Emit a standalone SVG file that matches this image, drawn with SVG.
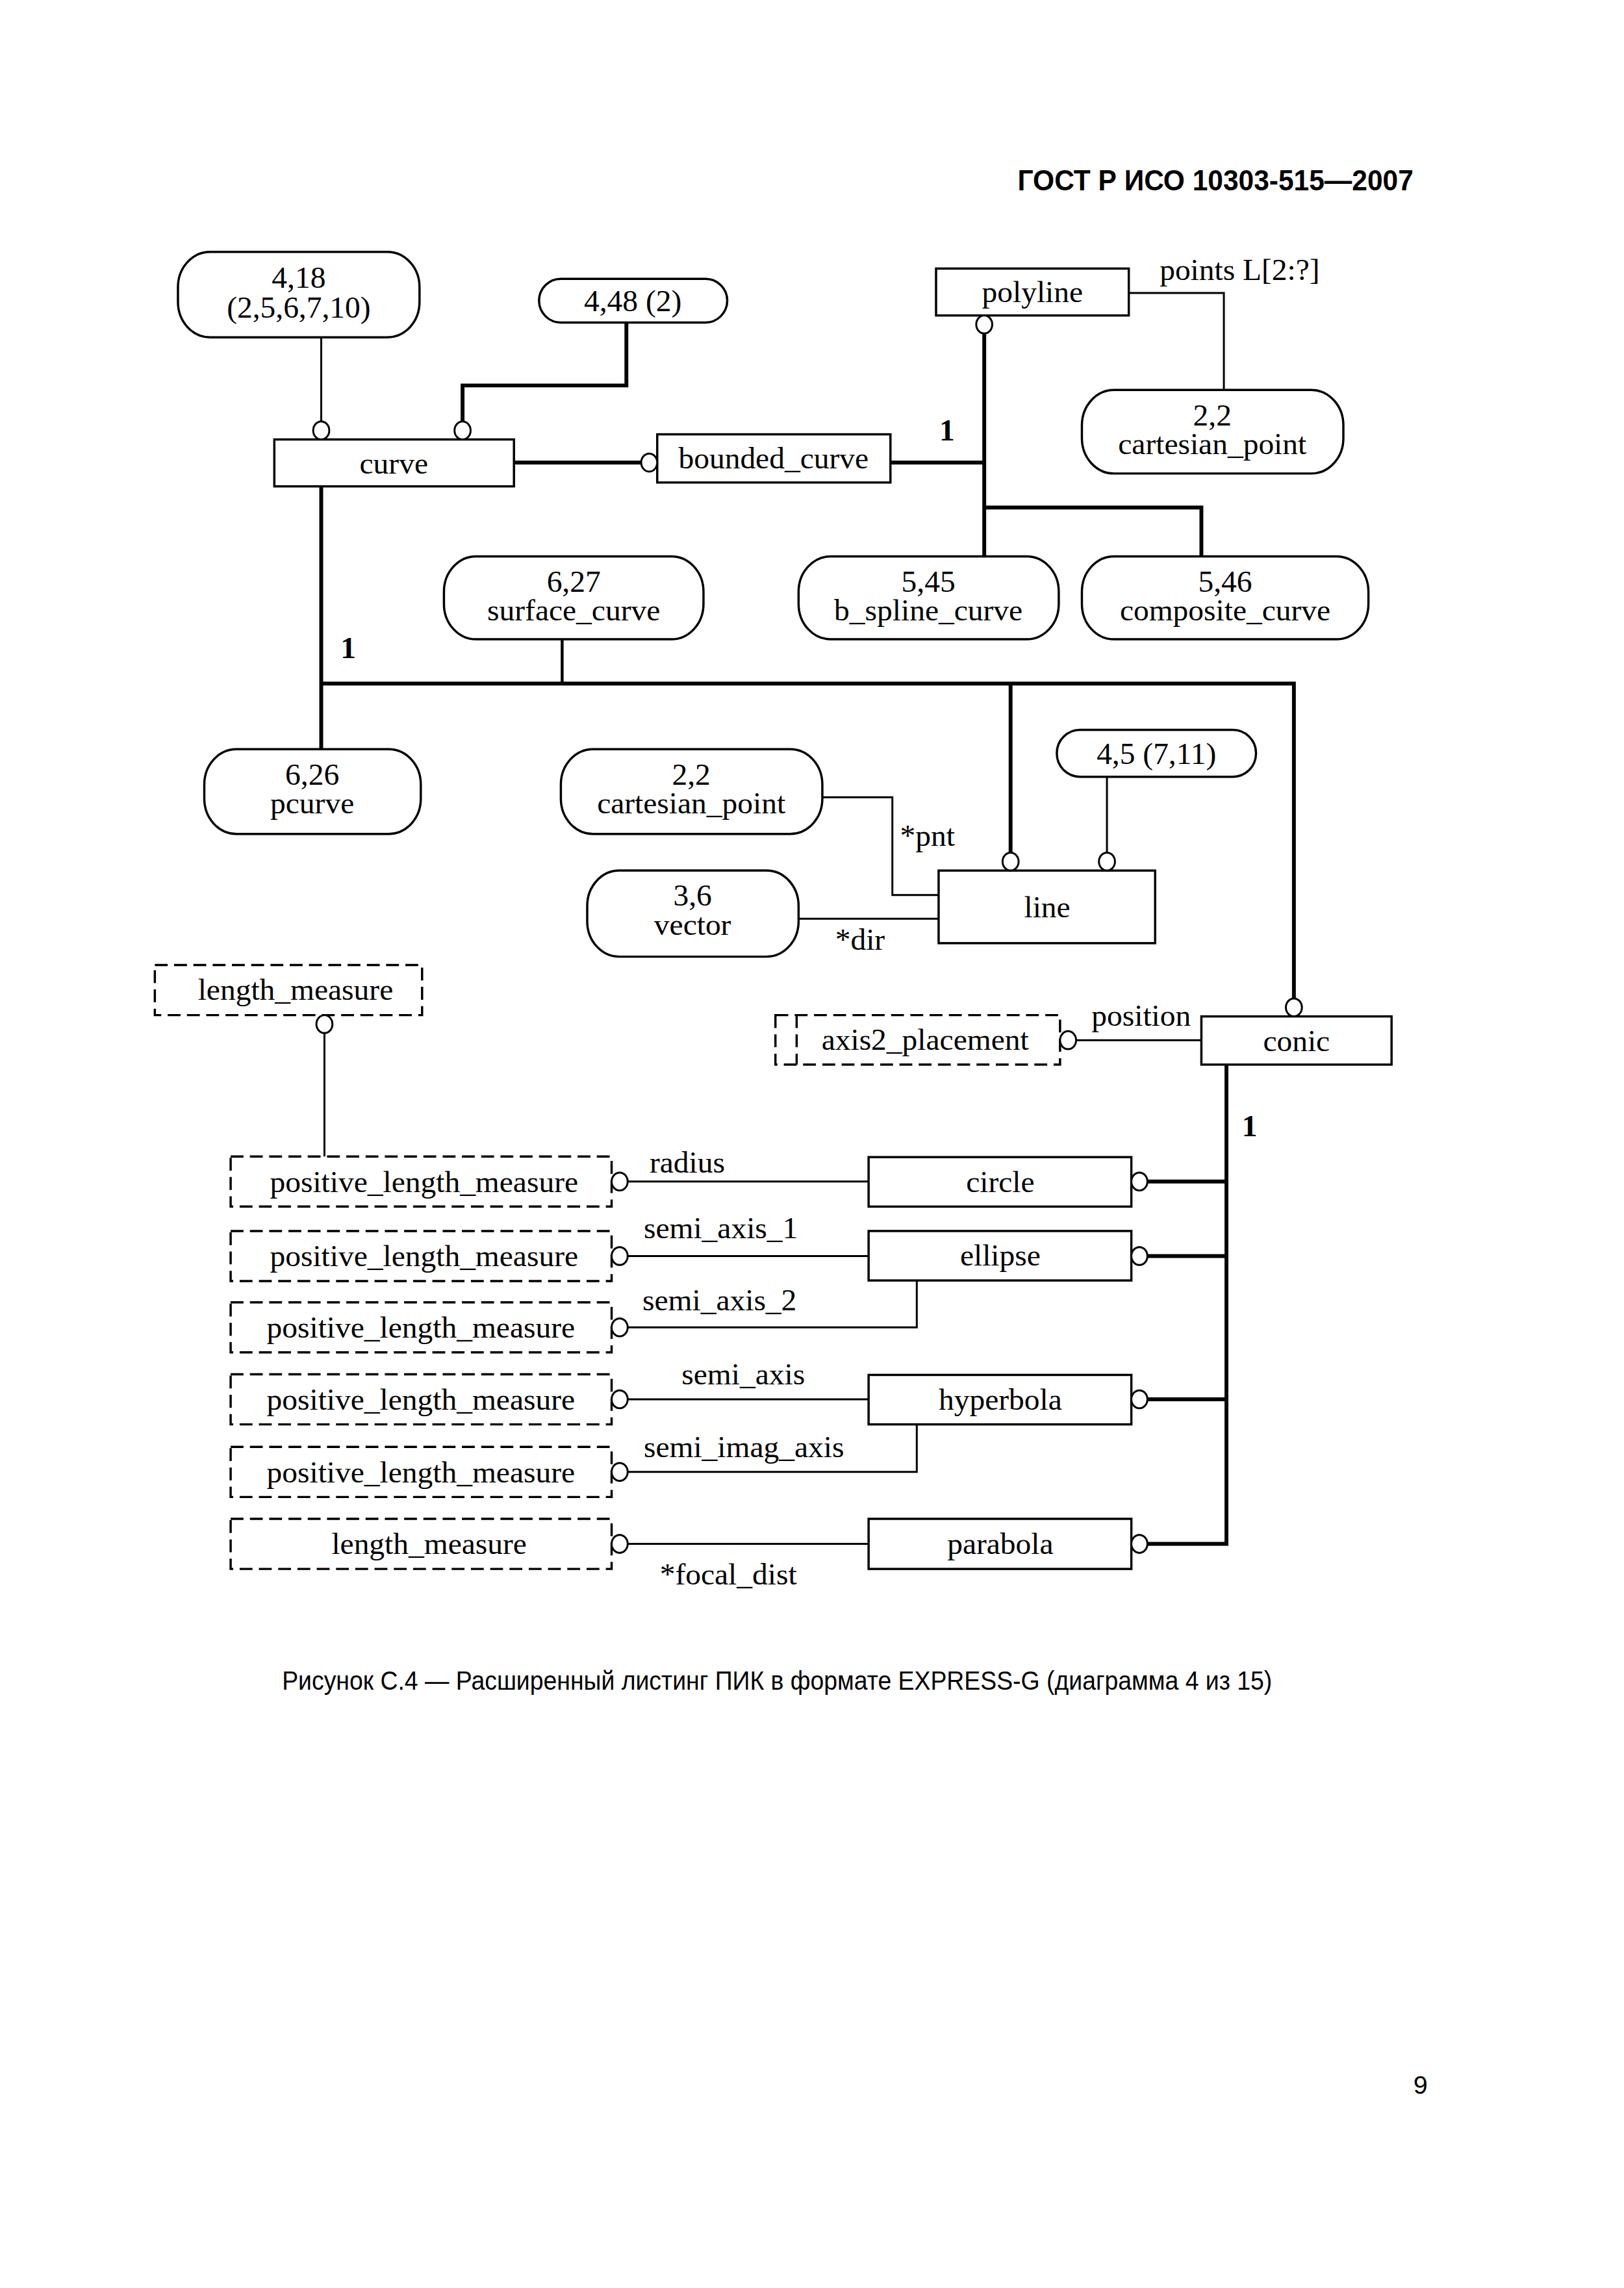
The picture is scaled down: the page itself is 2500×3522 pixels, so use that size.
<svg xmlns="http://www.w3.org/2000/svg" width="2500" height="3522" viewBox="0 0 2500 3522">
<style>
.box{fill:#fff;stroke:#000;stroke-width:3.5}
.rbox{fill:#fff;stroke:#000;stroke-width:3.5}
.dbox{fill:none;stroke:#000;stroke-width:3.5;stroke-dasharray:20 10}
.t{font-family:'Liberation Serif','Times New Roman',serif;font-size:48px;text-anchor:middle;fill:#000}
.l{font-family:'Liberation Serif','Times New Roman',serif;font-size:48px;fill:#000}
.b{font-weight:bold}
.thin{fill:none;stroke:#000;stroke-width:3}
.med{fill:none;stroke:#000;stroke-width:4.5}
.thick{fill:none;stroke:#000;stroke-width:6}
.ring{fill:#fff;stroke:#000;stroke-width:3}
.hdr{font-family:'Liberation Sans',Arial,sans-serif;fill:#000}
</style>
<rect width="2500" height="3522" fill="#fff"/>
<g transform="scale(0.989)">
<text class="hdr" x="2200" y="296" text-anchor="end" font-weight="bold" font-size="44" textLength="616" lengthAdjust="spacingAndGlyphs">ГОСТ Р ИСО 10303-515—2007</text>

<g id="n418"><rect class="rbox" x="277" y="392" width="376" height="133" rx="50" ry="55"/><text class="t"><tspan x="465" y="448">4,18</tspan><tspan x="465" y="494">(2,5,6,7,10)</tspan></text></g>
<g id="n448"><rect class="rbox" x="839" y="434" width="293" height="68" rx="34"/><text class="t" x="985" y="484">4,48 (2)</text></g>
<g id="polyline"><rect class="box" x="1457" y="418" width="300" height="73"/><text class="t" x="1607" y="470">polyline</text></g>
<g id="cp_top"><rect class="rbox" x="1684" y="607" width="407" height="130" rx="50" ry="55"/><text class="t"><tspan x="1887" y="662">2,2</tspan><tspan x="1887" y="707">cartesian_point</tspan></text></g>
<g id="curve"><rect class="box" x="427" y="684" width="373" height="73"/><text class="t" x="613" y="737">curve</text></g>
<g id="bounded_curve"><rect class="box" x="1023" y="676" width="363" height="75"/><text class="t" x="1204" y="729">bounded_curve</text></g>
<g id="surface_curve"><rect class="rbox" x="691" y="866" width="404" height="129" rx="50" ry="55"/><text class="t"><tspan x="893" y="921">6,27</tspan><tspan x="893" y="966">surface_curve</tspan></text></g>
<g id="b_spline_curve"><rect class="rbox" x="1243" y="866" width="405" height="129" rx="50" ry="55"/><text class="t"><tspan x="1445" y="921">5,45</tspan><tspan x="1445" y="966">b_spline_curve</tspan></text></g>
<g id="composite_curve"><rect class="rbox" x="1684" y="866" width="446" height="129" rx="50" ry="55"/><text class="t"><tspan x="1907" y="921">5,46</tspan><tspan x="1907" y="966">composite_curve</tspan></text></g>
<g id="pcurve"><rect class="rbox" x="318" y="1166" width="337" height="132" rx="50" ry="55"/><text class="t"><tspan x="486" y="1221">6,26</tspan><tspan x="486" y="1266">pcurve</tspan></text></g>
<g id="cp_mid"><rect class="rbox" x="873" y="1166" width="407" height="132" rx="50" ry="55"/><text class="t"><tspan x="1076" y="1221">2,2</tspan><tspan x="1076" y="1266">cartesian_point</tspan></text></g>
<g id="n45"><rect class="rbox" x="1645" y="1136" width="310" height="73" rx="36"/><text class="t" x="1800" y="1189">4,5 (7,11)</text></g>
<g id="line"><rect class="box" x="1461" y="1355" width="337" height="113"/><text class="t" x="1630" y="1428">line</text></g>
<g id="vector"><rect class="rbox" x="914" y="1355" width="329" height="134" rx="50" ry="55"/><text class="t"><tspan x="1078" y="1410">3,6</tspan><tspan x="1078" y="1455">vector</tspan></text></g>
<g id="lm_top"><rect class="dbox" x="241" y="1502" width="416" height="78"/><text class="t" x="460" y="1556">length_measure</text></g>
<g id="axis2_placement"><rect class="dbox" x="1207" y="1580" width="443" height="77"/><line class="dbox" x1="1240" y1="1580" x2="1240" y2="1657"/><text class="t" x="1440" y="1634">axis2_placement</text></g>
<g id="conic"><rect class="box" x="1870" y="1582" width="296" height="75"/><text class="t" x="2018" y="1636">conic</text></g>
<g id="plm1"><rect class="dbox" x="359" y="1800" width="593" height="78"/><text class="t" x="660" y="1855">positive_length_measure</text></g>
<g id="plm2"><rect class="dbox" x="359" y="1916" width="593" height="78"/><text class="t" x="660" y="1971">positive_length_measure</text></g>
<g id="plm3"><rect class="dbox" x="359" y="2027" width="593" height="78"/><text class="t" x="655" y="2082">positive_length_measure</text></g>
<g id="plm4"><rect class="dbox" x="359" y="2139" width="593" height="78"/><text class="t" x="655" y="2194">positive_length_measure</text></g>
<g id="plm5"><rect class="dbox" x="359" y="2252" width="593" height="78"/><text class="t" x="655" y="2307">positive_length_measure</text></g>
<g id="lm_bottom"><rect class="dbox" x="359" y="2364" width="593" height="78"/><text class="t" x="668" y="2419">length_measure</text></g>
<g id="circle"><rect class="box" x="1352" y="1801" width="409" height="77"/><text class="t" x="1557" y="1855">circle</text></g>
<g id="ellipse"><rect class="box" x="1352" y="1916" width="409" height="77"/><text class="t" x="1557" y="1970">ellipse</text></g>
<g id="hyperbola"><rect class="box" x="1352" y="2140" width="409" height="77"/><text class="t" x="1557" y="2194">hyperbola</text></g>
<g id="parabola"><rect class="box" x="1352" y="2364" width="409" height="78"/><text class="t" x="1557" y="2419">parabola</text></g>

<g id="connectors">
<path class="thin" d="M500,525 V656"/>
<path class="thick" d="M975,502 V600 H720 V656"/>
<path class="thick" d="M800,720 H998"/>
<path class="thick" d="M1386,720 H1532"/>
<path class="thick" d="M1532,519 V866"/>
<path class="thick" d="M1532,790 H1870 V866"/>
<path class="thin" d="M1757,456 H1905 V607"/>
<path class="thick" d="M500,757 V1166"/>
<path class="thick" d="M500,1064 H2014 V1554"/>
<path class="thick" d="M1573,1064 V1327"/>
<path class="med" d="M875,995 V1064"/>
<path class="thin" d="M1723,1209 V1327"/>
<path class="thin" d="M1280,1241 H1389 V1393 H1461"/>
<path class="thin" d="M1243,1430 H1461"/>
<path class="thin" d="M1870,1619 H1675"/>
<path class="thin" d="M505,1608 V1800"/>
<path class="thick" d="M1909,1657 V2403 H1786 M1909,1839 H1786 M1909,1955 H1786 M1909,2178 H1786"/>
<path class="thin" d="M1352,1839 H977 M1352,1955 H977 M1427,1993 V2066 H977 M1352,2178 H977 M1427,2217 V2291 H977 M1352,2403 H977"/>
<ellipse class="ring" cx="500" cy="670" rx="12.5" ry="14"/>
<ellipse class="ring" cx="720" cy="670" rx="12.5" ry="14"/>
<ellipse class="ring" cx="1010.5" cy="720" rx="12.5" ry="14"/>
<ellipse class="ring" cx="1532" cy="505" rx="12.5" ry="14"/>
<ellipse class="ring" cx="1573" cy="1341" rx="12.5" ry="14"/>
<ellipse class="ring" cx="1723" cy="1341" rx="12.5" ry="14"/>
<ellipse class="ring" cx="2014" cy="1568" rx="12.5" ry="14"/>
<ellipse class="ring" cx="505" cy="1594" rx="12.5" ry="14"/>
<ellipse class="ring" cx="1662.5" cy="1619" rx="12.5" ry="14"/>
<ellipse class="ring" cx="1773.5" cy="1839" rx="12.5" ry="14"/>
<ellipse class="ring" cx="1773.5" cy="1955" rx="12.5" ry="14"/>
<ellipse class="ring" cx="1773.5" cy="2178" rx="12.5" ry="14"/>
<ellipse class="ring" cx="1773.5" cy="2403" rx="12.5" ry="14"/>
<ellipse class="ring" cx="964.5" cy="1839" rx="12.5" ry="14"/>
<ellipse class="ring" cx="964.5" cy="1955" rx="12.5" ry="14"/>
<ellipse class="ring" cx="964.5" cy="2066" rx="12.5" ry="14"/>
<ellipse class="ring" cx="964.5" cy="2178" rx="12.5" ry="14"/>
<ellipse class="ring" cx="964.5" cy="2291" rx="12.5" ry="14"/>
<ellipse class="ring" cx="964.5" cy="2403" rx="12.5" ry="14"/>
</g>

<g id="labels">
<text class="l" x="1805" y="436">points L[2:?]</text>
<text class="l b" x="1462" y="686">1</text>
<text class="l b" x="530" y="1024">1</text>
<text class="l" x="1401" y="1316">*pnt</text>
<text class="l" x="1300" y="1478">*dir</text>
<text class="l" x="1699" y="1597">position</text>
<text class="l b" x="1933" y="1768">1</text>
<text class="l" x="1011" y="1825">radius</text>
<text class="l" x="1002" y="1927">semi_axis_1</text>
<text class="l" x="1000" y="2039">semi_axis_2</text>
<text class="l" x="1061" y="2155">semi_axis</text>
<text class="l" x="1002" y="2268">semi_imag_axis</text>
<text class="l" x="1027" y="2466">*focal_dist</text>
</g>

<text class="hdr" x="439" y="2630" font-size="42" textLength="1541" lengthAdjust="spacingAndGlyphs">Рисунок С.4 — Расширенный листинг ПИК в формате EXPRESS-G (диаграмма 4 из 15)</text>
<text class="hdr" x="2200" y="3259" font-size="40">9</text>
</g>
</svg>
